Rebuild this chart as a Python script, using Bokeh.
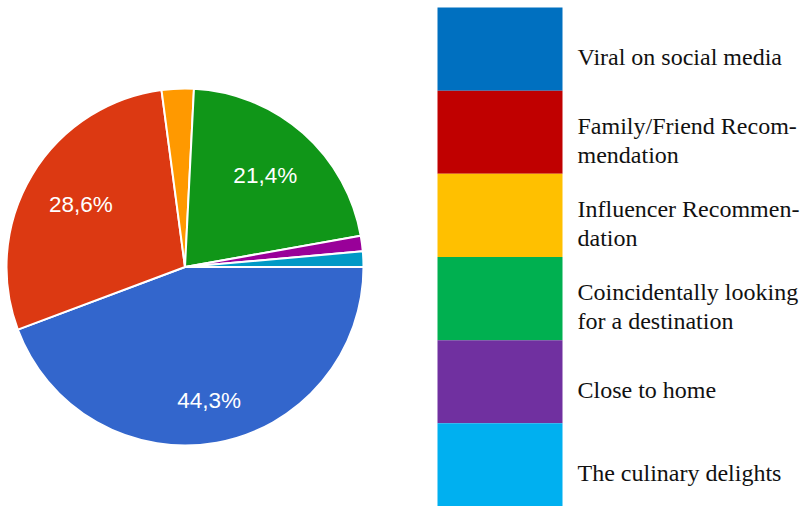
import math
from bokeh.plotting import figure
from bokeh.models import ColumnDataSource, Range1d
from bokeh.core.properties import value
from bokeh.embed import file_html
from bokeh.resources import INLINE

# ---- data ----
categories = ["Viral on social media", "Family/Friend Recommendation",
              "Influencer Recommendation", "Coincidentally looking for a destination",
              "Close to home", "The culinary delights"]
legend_labels = ["Viral on social media", "Family/Friend Recom-\nmendation",
                 "Influencer Recommen-\ndation", "Coincidentally looking\nfor a destination",
                 "Close to home", "The culinary delights"]
percent = [44.3, 28.6, 2.9, 21.4, 1.4, 1.4]
pct_labels = ["44,3%", "28,6%", "", "21,4%", "", ""]
pie_colors = ["#3366CC", "#DC3912", "#FF9900", "#109618", "#990099", "#0099C6"]
legend_colors = ["#0070C0", "#C00000", "#FFC000", "#00B050", "#7030A0", "#00B0F0"]

# ---- layout ----
W, H = 804, 506
cx, cy, R = 184.5, H - 266.5, 178.5
label_frac = [0.76, 0.68, 0.7, 0.68, 0.7, 0.7]

total = sum(percent)
starts, ends, lx, ly = [], [], [], []
acc = 0.0
for i, v in enumerate(percent):
    a0 = acc / total * 2 * math.pi
    acc += v
    a1 = acc / total * 2 * math.pi
    # clockwise from 3 o'clock
    starts.append(-a1)
    ends.append(-a0)
    mid = -(a0 + a1) / 2
    lx.append(cx + label_frac[i] * R * math.cos(mid))
    ly.append(cy + label_frac[i] * R * math.sin(mid))

pie_src = ColumnDataSource(dict(start=starts, end=ends, color=pie_colors))
lab_src = ColumnDataSource(dict(x=lx, y=ly, text=pct_labels))

p = figure(width=W, height=H, output_backend="svg", toolbar_location=None,
           x_range=Range1d(0, W), y_range=Range1d(0, H), min_border=0)
p.axis.visible = False
p.grid.visible = False
p.outline_line_color = None
p.background_fill_color = "white"
p.border_fill_color = "white"

p.wedge(x=cx, y=cy, radius=R, start_angle="start", end_angle="end",
        direction="anticlock", fill_color="color", line_color="white",
        line_width=2, source=pie_src)
p.text(x="x", y="y", text="text", source=lab_src, text_color="white",
       text_font=value("Liberation Sans"), text_font_size="22.5px",
       text_align="center", text_baseline="middle")

# legend boxes
box_top = H - 7
box_h = (box_top - 0) / len(categories)
tops = [box_top - i * box_h for i in range(len(categories))]
bottoms = [t - box_h for t in tops]
leg_src = ColumnDataSource(dict(top=tops, bottom=bottoms, color=legend_colors,
                                ty=[(t + b) / 2 - 8 for t, b in zip(tops, bottoms)],
                                text=legend_labels))
p.quad(left=437, right=562, top="top", bottom="bottom", fill_color="color",
       line_color=None, source=leg_src)
p.text(x=577, y="ty", text="text", source=leg_src, text_color="#111111",
       text_font=value("Liberation Serif"), text_font_size="24px",
       text_align="left", text_baseline="middle", text_line_height=1.1)

open("out.html", "w").write(file_html(p, INLINE))
